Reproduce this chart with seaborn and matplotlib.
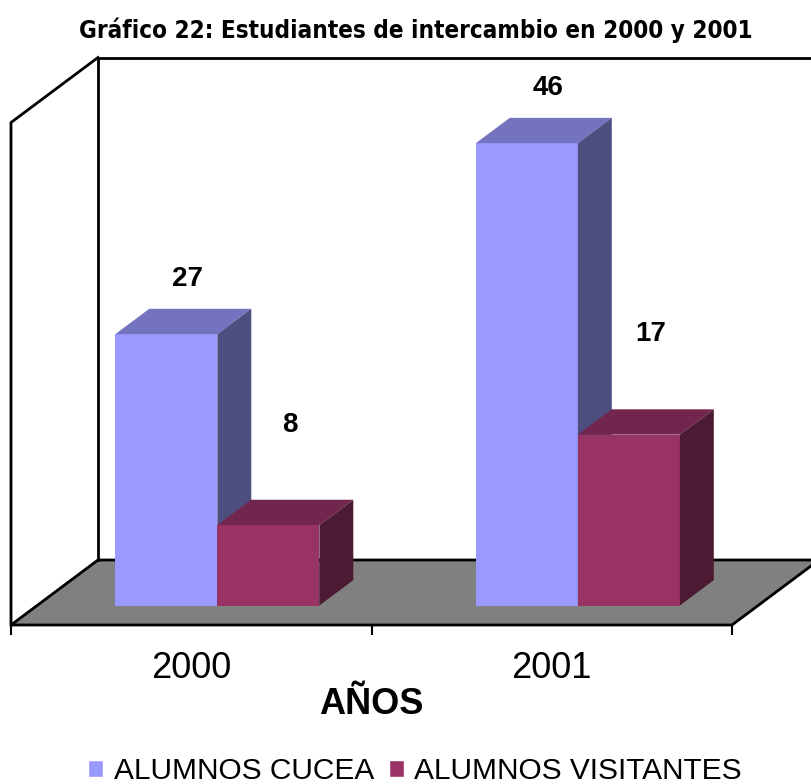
import pandas as pd
import matplotlib
matplotlib.use('Agg')
import matplotlib.pyplot as plt
from matplotlib.patches import Polygon, Patch
import seaborn as sns

# datos
years = ['2000', '2001']
series = ['ALUMNOS CUCEA', 'ALUMNOS VISITANTES']
cucea = [27, 46]
visitantes = [8, 17]
y_max = 50

df = pd.DataFrame({
    'año': years * 2,
    'serie': [series[0]] * 2 + [series[1]] * 2,
    'valor': cucea + visitantes,
})

# colores: frente, tapa y lado de cada serie
front = ['#9999FF', '#993366']
top = ['#7373C0', '#73264D']
side = ['#4D4D80', '#4D1A33']

sns.set_theme(style='white')
plt.rcParams['font.family'] = ['Liberation Sans', 'DejaVu Sans']
plt.rcParams['text.color'] = 'black'
plt.rcParams['axes.labelcolor'] = 'black'
plt.rcParams['xtick.color'] = 'black'
plt.rcParams['xtick.labelcolor'] = 'black'

W, H = 811, 784
fig = plt.figure(figsize=(W / 100, H / 100), dpi=100)
ax = fig.add_axes([11 / W, (H - 625) / H, 800 / W, 625 / H])

sns.barplot(data=df, x='año', y='valor', hue='serie', palette=front,
            width=0.566, saturation=1, errorbar=None, legend=False,
            linewidth=0, ax=ax)

# escala en pixeles por unidad
px_x = 360.5
px_y = 10.05
ax.set_xlim(-0.5, -0.5 + 800 / px_x)
ax.set_ylim(0, 625 / px_y)

# profundidad del piso y de las barras
DX = 87 / px_x
DY = 65 / px_y
ox, oy = 0.3 * DX, 0.3 * DY
dxb, dyb = 0.39 * DX, 0.39 * DY

# piso y paredes
ax.add_patch(Polygon([(-0.5, 0), (1.5, 0), (1.5 + DX, DY), (-0.5 + DX, DY)],
                     closed=True, fc='#808080', ec='black', lw=2, zorder=1, clip_on=False))
ax.plot([-0.5, -0.5, -0.5 + DX], [0, y_max, y_max + DY], color='black', lw=2,
        clip_on=False, zorder=1, solid_capstyle='projecting')
ax.plot([-0.5 + DX, -0.5 + DX, 1.5 + DX], [DY, y_max + DY, y_max + DY], color='black',
        lw=2, clip_on=False, zorder=1, solid_capstyle='projecting')

label_pad = [5.5, 10.0]
for i, cont in enumerate(ax.containers):
    for bar in cont:
        x0 = bar.get_x() + ox
        y0 = bar.get_y() + oy
        w = bar.get_width()
        h = bar.get_height()
        bar.set_x(x0)
        bar.set_y(y0)
        bar.set_zorder(3 + i)
        ax.add_patch(Polygon([(x0, y0 + h), (x0 + dxb, y0 + h + dyb),
                              (x0 + w + dxb, y0 + h + dyb), (x0 + w, y0 + h)],
                             closed=True, fc=top[i], ec='none', zorder=3 + i))
        ax.add_patch(Polygon([(x0 + w, y0), (x0 + w + dxb, y0 + dyb),
                              (x0 + w + dxb, y0 + h + dyb), (x0 + w, y0 + h)],
                             closed=True, fc=side[i], ec='none', zorder=3 + i))
        ax.text(x0 + w / 2 + 0.06, y0 + h + label_pad[i], f'{h:.0f}',
                ha='center', va='center', fontsize=20, fontweight='bold', zorder=10)

# ejes
for s in ax.spines.values():
    s.set_visible(False)
ax.set_yticks([])
ax.set_ylabel('')
ax.set_xticks([-0.5, 0.5, 1.5], labels=['', '', ''])
ax.set_xticks([0, 1], labels=years, minor=True)
ax.tick_params(axis='x', which='major', bottom=True, length=7.5, width=1.5,
               color='black', direction='out')
ax.tick_params(axis='x', which='minor', bottom=True, length=0, labelsize=26, pad=19)

ax.set_xlabel('AÑOS', fontsize=26, fontweight='bold')
ax.xaxis.label.set_va('center')
ax.xaxis.set_label_coords((0.5 + 0.5) / (800 / px_x), -80 / 625)

fig.text(416 / W, 1 - 30 / H, 'Gráfico 22: Estudiantes de intercambio en 2000 y 2001',
         ha='center', va='center', fontsize=17.4, fontweight='bold',
         family='DejaVu Sans', fontstretch='condensed')

handles = [Patch(fc=c) for c in front]
fig.legend(handles, series, loc='center', bbox_to_anchor=(415 / W, 1 - 771 / H), ncol=2,
           frameon=False, fontsize=21.5, handlelength=0.5, handleheight=0.5,
           handletextpad=0.35, columnspacing=0.5, borderpad=0, borderaxespad=0)

fig.savefig('out.png', dpi=100)
